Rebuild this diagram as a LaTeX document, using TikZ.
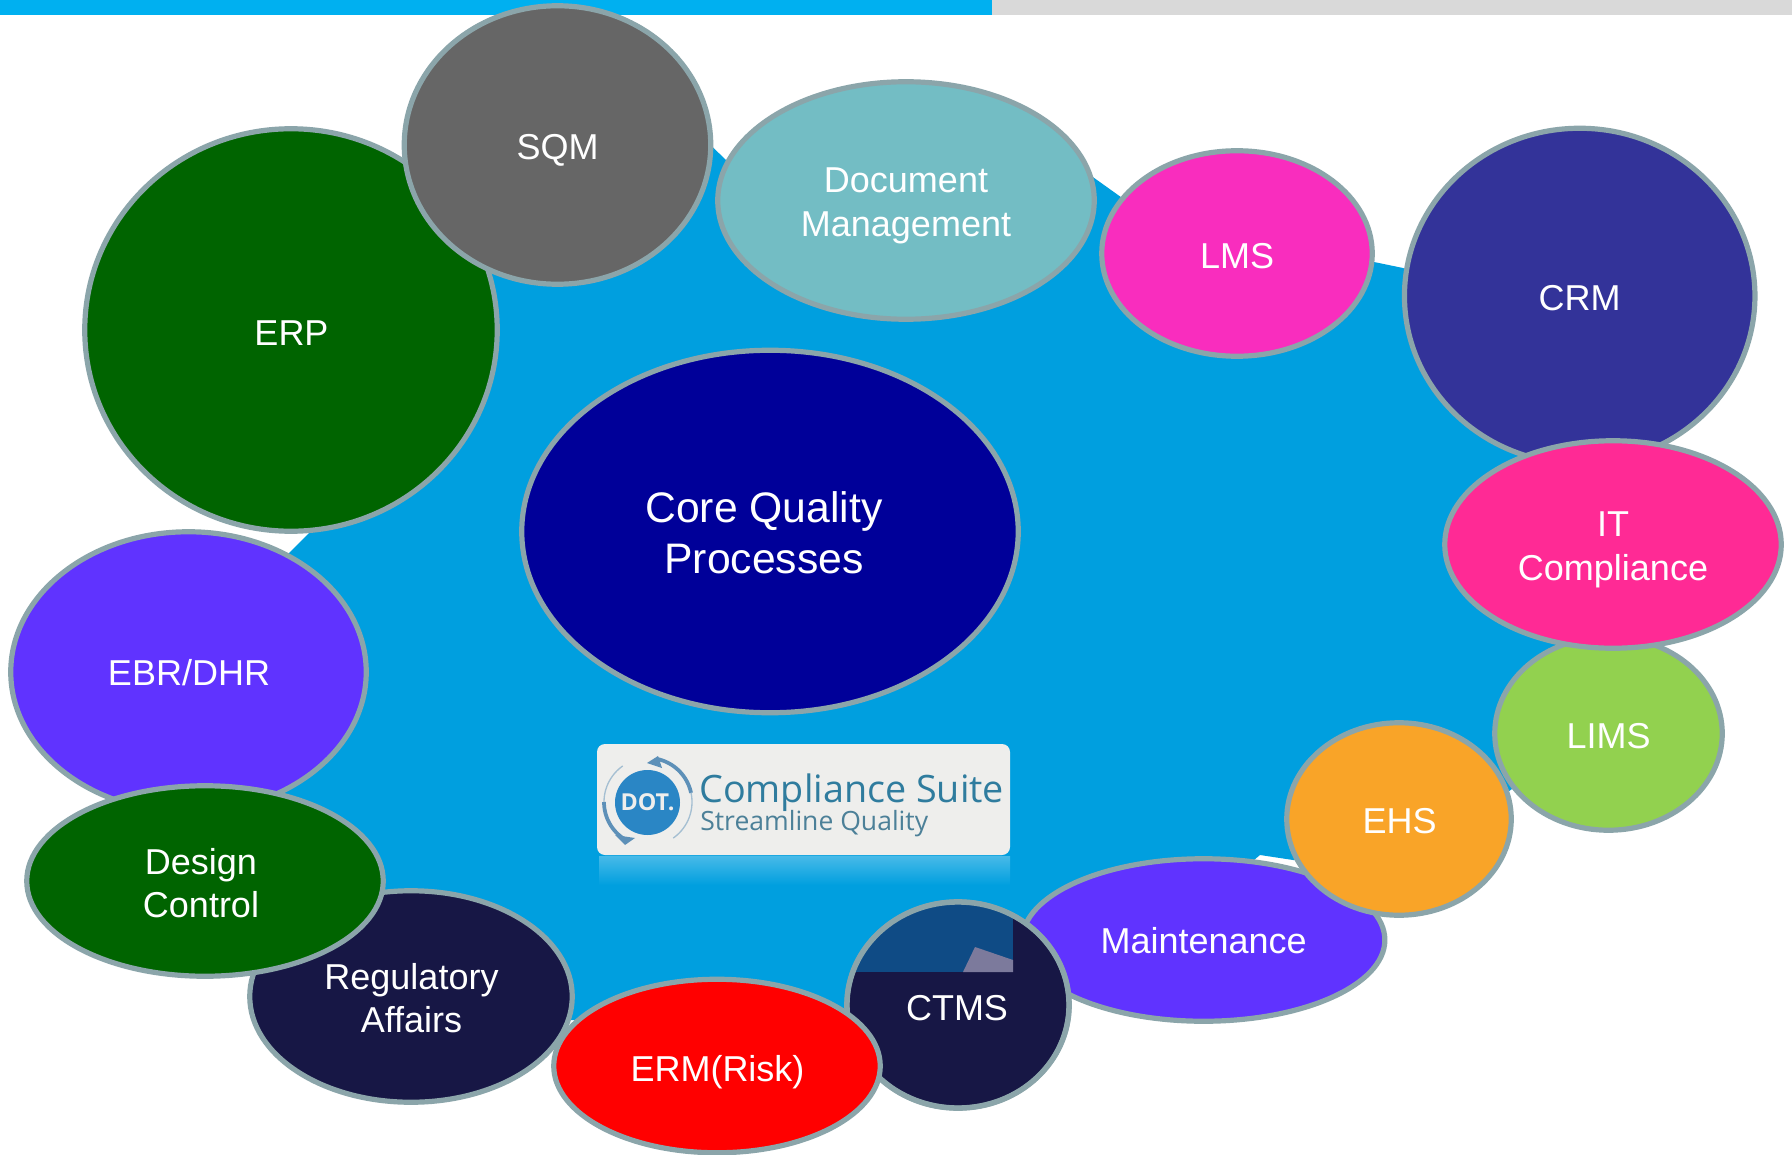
\documentclass[tikz,border=0pt]{standalone}
\usepackage{fontspec}
\setmainfont{Liberation Sans}
\newfontfamily\logofont{Open Sans}
\usetikzlibrary{shapes.geometric,calc}
\definecolor{ringc}{HTML}{8BA5AA}
\definecolor{blobc}{HTML}{009FDF}
\definecolor{barblue}{HTML}{00B0F0}
\definecolor{bargray}{HTML}{D9D9D9}
\definecolor{erpc}{HTML}{006400}
\definecolor{sqmc}{HTML}{666666}
\definecolor{docc}{HTML}{73BDC4}
\definecolor{lmsc}{HTML}{F92DBE}
\definecolor{crmc}{HTML}{333399}
\definecolor{itc}{HTML}{FF2A95}
\definecolor{limsc}{HTML}{92D14F}
\definecolor{ehsc}{HTML}{F9A428}
\definecolor{violetc}{HTML}{6033FF}
\definecolor{navyc}{HTML}{171745}
\definecolor{corec}{HTML}{000099}
\definecolor{logobg}{HTML}{EEEEEC}
\definecolor{logotxt}{HTML}{2F7C9E}
\definecolor{logotxtb}{HTML}{4C8098}
\definecolor{dotc}{HTML}{2A86C5}
\definecolor{swoosh}{HTML}{5D90B8}
\definecolor{patchc}{HTML}{0F4B85}
\definecolor{patchb}{HTML}{7C7A9C}
\tikzset{
  ball/.style n args={3}{ellipse,draw=ringc,line width=3.9pt,fill=#3,inner sep=0pt,outer sep=0pt,
    minimum width=(#1-3.5)*0.75pt,minimum height=(#2-3.5)*0.75pt},
  lbl/.style={text=white,align=center,inner sep=0pt,font=\fontsize{27}{32.5}\selectfont},
  bigl/.style={text=white,align=center,inner sep=0pt,font=\fontsize{32}{38}\selectfont},
  thickarc/.style={swoosh,line width=2.8pt},
  thinarc/.style={swoosh!50!logobg,line width=1pt}
}
\begin{document}
\begin{tikzpicture}[x=0.75pt,y=-0.75pt]
\useasboundingbox (0,0) rectangle (1792,1155);
\fill[white] (0,0) rectangle (1792,1155);
\fill[barblue] (0,0) rectangle (992,15);
\fill[bargray] (992,0) rectangle (1792,15);
% blue backdrop
\fill[blobc] (290,552) -- (310,532) -- (470,330) -- (480,260) -- (520,250) -- (680,120) -- (700,135) -- (726,160)
  .. controls (745,180) and (770,195) .. (800,190)
  .. controls (900,150) and (1030,130) .. (1097,180)
  -- (1125,200)
  .. controls (1180,240) and (1300,250) .. (1374,262)
  -- (1403,268)
  .. controls (1500,300) and (1640,500) .. (1620,650)
  .. controls (1610,700) and (1560,770) .. (1512,789)
  -- (1400,870) -- (1293,860) -- (1260,855) -- (1230,880) -- (1100,980) -- (900,1050) -- (700,1090)
  -- (580,1020) -- (540,1020) -- (400,1050) -- (300,1000) -- (250,850) -- (200,650) -- cycle;
% logo
\shade[top color=blobc!72!white,bottom color=blobc] (599,856) rectangle (1010,885);
\fill[logobg,rounded corners=6pt] (597,744) rectangle (1010,855);
\node[circle,fill=dotc,minimum size=48.75pt,inner sep=0pt,text=logobg,font=\logofont\bfseries\fontsize{17.5}{17.5}\selectfont] (dot) at (647.5,802.5) {DOT.};
\draw[thickarc,domain=78:12,samples=24] plot ({648+44*cos(\x)},{802-44*sin(\x)});
\draw[thinarc,domain=12:-55,samples=24] plot ({648+44*cos(\x)},{802-44*sin(\x)});
\draw[thickarc,domain=240:180,samples=24] plot ({648+44*cos(\x)},{802-44*sin(\x)});
\draw[thinarc,domain=180:125,samples=24] plot ({648+44*cos(\x)},{802-44*sin(\x)});
\fill[swoosh] (647,763) -- (658,756) -- (662,768) -- cycle;
\fill[swoosh] (615,835) -- (625,845) -- (635,838) -- cycle;
\node[anchor=base west,inner sep=0pt,text=logotxt,font=\logofont\fontsize{28.3}{28.3}\selectfont] (lg1) at (699,802) {Compliance Suite};
\node[anchor=base west,inner sep=0pt,text=logotxtb,font=\logofont\fontsize{19.9}{19.9}\selectfont] (lg2) at (700,830) {Streamline Quality};
% bubbles
\node[ball={359}{284}{violetc}] (ebr) at (188.5,672) {};
\node[lbl] (ebrT) at (189,673) {EBR/DHR};
\node[ball={416}{406}{erpc}] (erp) at (291,330) {};
\node[lbl] (erpT) at (291.5,333) {ERP};
\node[ball={310}{282}{sqmc}] (sqm) at (557.5,145) {};
\node[lbl] (sqmT) at (557.5,150) {SQM};
\node[ball={380}{241}{docc}] (doc) at (906,200.5) {};
\node[lbl] (docT) at (906,206) {Document\\Management};
\node[ball={274}{209}{lmsc}] (lms) at (1237,253.5) {};
\node[lbl] (lmsT) at (1237,256.5) {LMS};
\node[ball={354}{339}{crmc}] (crm) at (1579.7,296) {};
\node[lbl] (crmT) at (1579.7,298) {CRM};
\node[ball={231}{197}{limsc}] (lims) at (1608.5,733.5) {};
\node[lbl] (limsT) at (1608.5,736) {LIMS};
\node[ball={340}{211}{itc}] (it) at (1613,544.5) {};
\node[lbl] (itT) at (1613,550) {IT\\Compliance};
\node[ball={366}{166}{violetc}] (maint) at (1203.6,940) {};
\node[lbl] (maintT) at (1203.6,941) {Maintenance};
\node[ball={228}{196}{ehsc}] (ehs) at (1399,819) {};
\node[lbl] (ehsT) at (1399.5,821) {EHS};
\node[ball={226}{210}{navyc}] (ctms) at (958,1005) {};
\begin{scope}
  \clip (958,1005) ellipse [x radius=83pt,y radius=77pt];
  \fill[patchc] (840,895) rectangle (1013,972);
  \fill[patchb] (963,972) -- (975,947) -- (1013,960) -- (1013,972) -- cycle;
\end{scope}
\draw[ringc,line width=3.9pt] (958,1005) ellipse [x radius=83.2pt,y radius=77.2pt];
\node[lbl] (ctmsT) at (957,1008) {CTMS};
\node[ball={326}{215}{navyc}] (ra) at (411,996.5) {};
\node[lbl] (raT) at (411.5,998) {Regulatory\\Affairs};
\node[ball={330}{177}{red}] (erm) at (717,1066) {};
\node[lbl] (ermT) at (717.5,1072) {ERM(Risk)};
\node[ball={360}{194}{erpc}] (design) at (205,881) {};
\node[lbl] (designT) at (201,883) {Design\\Control};
\node[ball={500}{366}{corec}] (core) at (770,531.5) {};
\node[bigl] (coreT) at (764,533) {Core Quality\\Processes};
\end{tikzpicture}
\end{document}
